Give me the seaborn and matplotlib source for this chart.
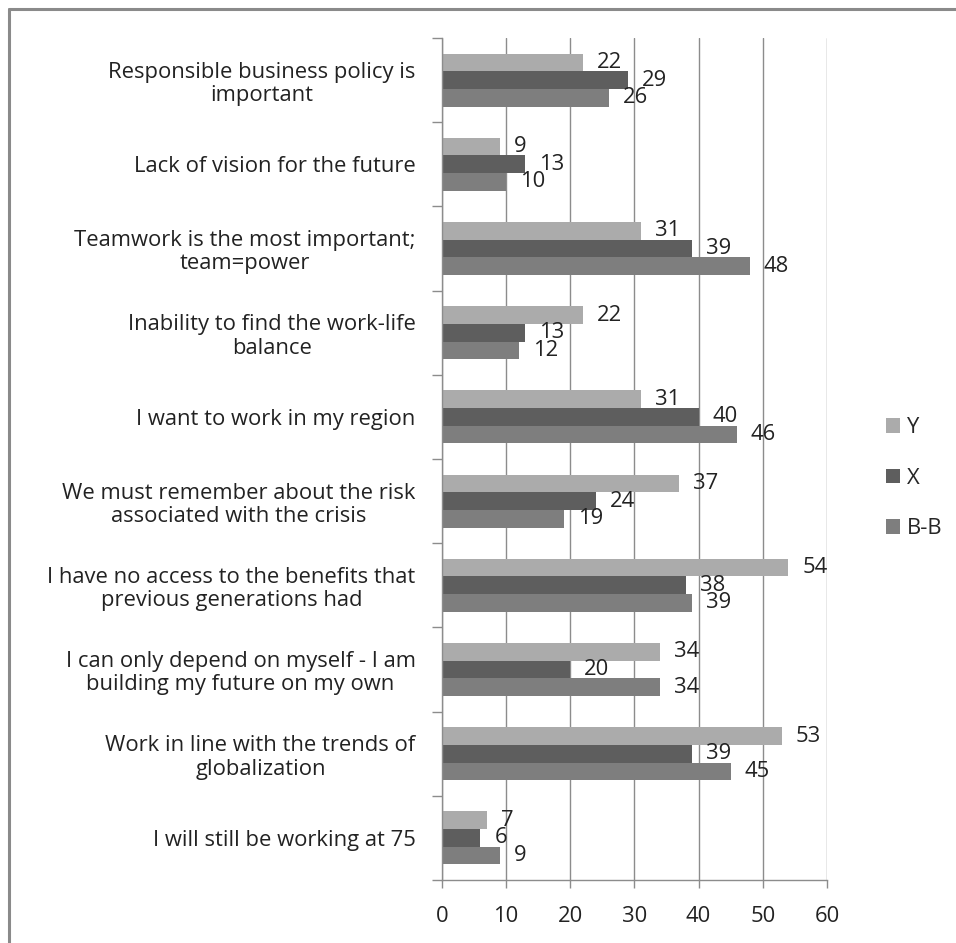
import numpy as np
import pandas as pd
import matplotlib
matplotlib.use("Agg")
import matplotlib.pyplot as plt
from matplotlib.lines import Line2D
import seaborn as sns

# answers, top to bottom as in the chart
categories = [
    "Responsible business policy is\nimportant",
    "Lack of vision for the future",
    "Teamwork is the most important;\nteam=power",
    "Inability to find the work-life\nbalance",
    "I want to work in my region",
    "We must remember about the risk\nassociated with the crisis",
    "I have no access to the benefits that\nprevious generations had",
    "I can only depend on myself - I am\nbuilding my future on my own",
    "Work in line with the trends of\nglobalization",
    "I will still be working at 75",
]
gen_y = [22, 9, 31, 22, 31, 37, 54, 34, 53, 7]
gen_x = [29, 13, 39, 13, 40, 24, 38, 20, 39, 6]
gen_bb = [26, 10, 48, 12, 46, 19, 39, 34, 45, 9]
groups = ["Y", "X", "B-B"]
x_ticks = [0, 10, 20, 30, 40, 50, 60]

df = pd.DataFrame({
    "answer": categories * 3,
    "value": gen_y + gen_x + gen_bb,
    "group": ["Y"] * 10 + ["X"] * 10 + ["B-B"] * 10,
})

sns.set_theme(style="white")
plt.rcParams["font.family"] = ["Open Sans", "DejaVu Sans"]
fs = 15.8

fig = plt.figure(figsize=(9.56, 9.43), dpi=100)
ax = fig.add_axes([0.4623, 0.0668, 0.4027, 0.8929])

palette = {"Y": "#ababab", "X": "#5e5e5e", "B-B": "#7e7e7e"}
sns.barplot(data=df, y="answer", x="value", hue="group", order=categories,
            hue_order=groups, palette=palette, orient="h", width=0.63,
            linewidth=0, saturation=1, ax=ax)

for cont in ax.containers:
    ax.bar_label(cont, padding=10, fontsize=fs, color="#222222")

ax.set_xlim(0, 60)
ax.set_ylim(9.5, -0.5)
ax.set_xticks(x_ticks)
ax.set_xlabel("")
ax.set_ylabel("")
ax.grid(axis="x", color="#8c8c8c", linewidth=1)
ax.set_axisbelow(True)
for s in ["top", "right"]:
    ax.spines[s].set_visible(False)
for s in ["left", "bottom"]:
    ax.spines[s].set_color("#8c8c8c")
    ax.spines[s].set_linewidth(1)

ax.set_yticks(np.arange(-0.5, 10, 1), minor=True)
ax.tick_params(axis="y", which="major", length=0, pad=19, labelsize=fs, labelcolor="#222222")
ax.tick_params(axis="y", which="minor", left=True, length=7, color="#8c8c8c", width=1)
ax.tick_params(axis="x", which="major", bottom=True, length=6, color="#8c8c8c",
               width=1, pad=13, labelsize=fs, labelcolor="#222222")
for t in ax.get_yticklabels():
    t.set_multialignment("center")
    t.set_linespacing(1.15)

leg = ax.legend(loc="center left", bbox_to_anchor=(0.915, 0.493),
                bbox_transform=fig.transFigure, frameon=False, fontsize=fs,
                handlelength=0.65, handleheight=0.65, handletextpad=0.3,
                labelspacing=1.35, borderpad=0)

# frame lines around the chart, as in the original
fig.add_artist(Line2D([0.0095, 1.0], [0.9905, 0.9905], color="#8a8a8a", lw=2.2))
fig.add_artist(Line2D([0.0095, 0.0095], [0.0, 0.9905], color="#8a8a8a", lw=2.2))

fig.savefig("out.png", dpi=100, facecolor="white")
